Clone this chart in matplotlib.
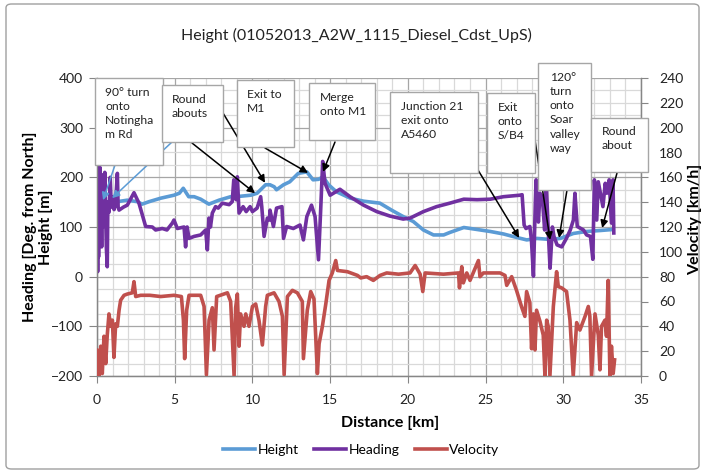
import matplotlib
matplotlib.use("Agg")
import matplotlib.pyplot as plt
from matplotlib.patches import Rectangle, FancyBboxPatch
from matplotlib.ticker import MultipleLocator

plt.rcParams['font.family'] = ['Lato', 'DejaVu Sans']

# ---------------- data ----------------
height_km = [0.0, 0.2, 0.4, 0.7, 1.0, 1.31, 1.95, 2.6, 2.9, 3.35, 4.1, 4.95, 5.3, 5.55, 5.9,
             6.25, 6.67, 7.2, 7.85, 8.6, 9.25, 9.9, 10.3, 10.85, 11.13, 11.4, 11.55, 12.0,
             12.4, 12.95, 13.5, 13.9, 14.25, 14.55, 14.9, 15.4, 16.3, 17.15, 18.2, 18.95,
             19.7, 20.35, 21.0, 21.65, 22.3, 22.7, 23.6, 24.45, 25.3, 26.15, 27.0, 27.65,
             28.3, 29.15, 29.8, 30.65, 31.5, 32.4, 33.2]
height_m = [150, 155, 152, 148, 152, 151, 154, 151, 146, 151, 158, 164, 168, 178, 161,
            161, 156, 146, 154, 161, 162, 164, 168, 185, 185, 181, 175, 185,
            191, 208, 211, 195, 196, 201, 185, 171, 158, 152, 148, 134,
            121, 111, 94, 84, 84, 89, 99, 95, 91, 86, 79, 74,
            77, 75, 77, 87, 91, 93, 95]

heading_km = [0.00, 0.02, 0.04, 0.07, 0.10, 0.13, 0.16, 0.19, 0.22, 0.26, 0.30, 0.34, 0.38,
              0.42, 0.46, 0.50, 0.55, 0.60, 0.66, 0.70, 0.78, 0.85, 0.92, 1.00, 1.10, 1.20,
              1.31, 1.36, 1.42,
              1.70, 1.95, 2.38, 2.70, 3.13, 3.56, 3.77, 4.20, 4.50, 4.85, 4.95, 5.17, 5.60,
              5.70, 5.80, 5.92, 6.24, 6.67, 6.99, 7.10, 7.20, 7.30, 7.42, 7.63, 7.80, 8.06,
              8.50, 8.70, 8.80, 8.95, 9.03, 9.14, 9.40, 9.60, 9.85, 10.00, 10.30, 10.53,
              10.60, 10.75, 10.96, 11.10, 11.13, 11.35, 11.55, 11.90, 12.00, 12.20, 12.63,
              13.06, 13.28, 13.50, 13.80, 14.03, 14.25, 14.40, 14.52, 14.67, 15.00, 15.63,
              16.28, 17.15, 18.00, 18.85, 19.70, 20.15, 21.00, 21.85, 22.70, 23.60, 24.45,
              25.30, 26.15, 27.20, 27.35, 27.48, 27.60, 27.85, 27.95, 28.08, 28.20, 28.25,
              28.40, 28.50, 28.65, 28.80, 28.90, 29.05, 29.15, 29.30, 29.40, 29.60, 29.90,
              30.20, 30.45, 30.65, 30.75, 30.90, 31.30, 31.50, 31.75, 31.90, 32.00, 32.15,
              32.25, 32.55, 32.70, 32.80, 32.95, 33.10, 33.20, 33.25]
heading_deg = [150, 230, 10, 215, 40, 200, 70, 220, 90, 180, 60, 205, 100,
               190, 120, 210, 130, 60, 20, 150, 130, 200, 140, 160, 135, 150,
               208, 140, 134,
               140, 144, 169, 148, 101, 100, 94, 97, 94, 108, 114, 97, 100,
               60, 100, 77, 81, 84, 94, 54, 118, 100, 128, 141, 138, 148,
               145, 151, 195, 155, 201, 128, 141, 131, 141, 131, 138, 161,
               141, 81, 118, 114, 134, 101, 138, 141, 77, 101, 97,
               104, 74, 121, 144, 121, 34, 141, 232, 188, 164, 176,
               161, 144, 131, 122, 116, 118, 131, 141, 148, 156, 155,
               156, 161, 164, 165, 104, 97, 101, 74, 1, 148, 195,
               110, 168, 160, 94, 188, 81, 17, 100, 81, 64, 60,
               77, 94, 114, 168, 101, 94, 84, 81, 35, 195, 114,
               191, 141, 188, 168, 195, 108, 195, 88]

velocity_km = [0.00, 0.02, 0.13, 0.24, 0.34, 0.45, 0.56, 0.66, 0.77, 0.88, 0.99, 1.09, 1.20,
               1.31, 1.42, 1.52, 1.74, 1.95, 2.27, 2.38, 2.49, 2.81, 3.40, 4.10, 4.95, 5.43,
               5.56, 5.64, 5.77, 5.92, 6.67, 6.89, 7.04, 7.21, 7.42, 7.53, 7.70, 8.39, 8.60,
               8.82, 8.92, 9.03, 9.14, 9.24, 9.46, 9.57, 9.78, 10.00, 10.21, 10.42, 10.64,
               10.85, 10.96, 11.39, 11.71, 11.93, 12.04, 12.25, 12.57, 12.89, 13.21, 13.28,
               13.53, 13.75, 13.96, 14.18, 14.29, 14.50, 14.72, 14.93, 15.14, 15.36, 15.47,
               16.11, 16.76, 16.97, 17.35, 17.78, 18.21, 18.64, 19.40, 20.14, 20.47, 20.79,
               20.96, 21.11, 22.29, 23.26, 23.32, 23.47, 23.57, 23.79, 24.00, 24.54, 24.64,
               24.86, 25.93, 26.25, 26.36, 26.68, 26.99, 27.31, 27.53, 27.64, 27.85, 27.96,
               28.07, 28.18, 28.28, 28.50, 28.71, 28.82, 28.93, 29.03, 29.14, 29.36, 29.57,
               29.68, 29.89, 30.21, 30.43, 30.64, 30.86, 31.07, 31.40, 31.61, 31.71, 31.82,
               32.04, 32.25, 32.36, 32.46, 32.68, 32.78, 32.89, 33.00, 33.10, 33.21, 33.30]
velocity_kmh = [10, 21, 0, 24, 2, 32, 10, 33, 50, 40, 45, 15, 42,
                40, 53, 61, 65, 66, 67, 76, 64, 65, 65, 64, 65, 64,
                45, 14, 53, 65, 65, 56, 1, 45, 55, 21, 64, 67, 60,
                0, 55, 66, 24, 50, 40, 50, 40, 56, 58, 45, 25,
                56, 65, 67, 60, 48, 1, 64, 69, 67, 60, 14,
                53, 68, 62, 2, 26, 40, 58, 77, 83, 93, 85,
                84, 81, 79, 80, 77, 81, 83, 82, 83, 89, 82,
                68, 83, 82, 83, 71, 88, 75, 83, 77, 93, 80,
                83, 83, 81, 73, 80, 69, 56, 48, 68, 59, 22,
                50, 21, 53, 44, 33, 0, 45, 40, 0, 56, 84,
                72, 71, 68, 45, 0, 43, 37, 48, 56, 48, 0,
                50, 33, 5, 40, 45, 32, 77, 0, 24, 2, 13]

series_names = ["Height", "Heading", "Velocity"]
x_ticks = [0, 5, 10, 15, 20, 25, 30, 35]
left_ticks = [-200, -100, 0, 100, 200, 300, 400]
right_ticks = list(range(0, 241, 20))

# annotations: text, arrow tips (km, left-axis value)
notes = ["90° turn\nonto\nNotingha\nm Rd", "Round\nabouts", "Exit to\nM1", "Merge\nonto M1",
         "Junction 21\nexit onto\nA5460", "Exit\nonto\nS/B4",
         "120°\nturn\nonto\nSoar\nvalley\nway", "Round\nabout"]
arrow_tips_km = [0.39, 0.97, 10.17, 10.81, 13.58, 14.54, 27.16, 29.15, 29.73, 32.5]
arrow_tips_val = [154, 158, 168, 189, 209, 211, 78, 74, 78, 98]

# ---------------- layout (pixels) ----------------
W, H = 705, 473
L, R, T, B = 97, 641, 78, 376
fig = plt.figure(figsize=(W / 100, H / 100), dpi=100)
ax = fig.add_axes([L / W, 1 - B / H, (R - L) / W, (B - T) / H])
ax2 = ax.twinx()

c_h, c_hd, c_v = '#5B9BD5', '#7030A0', '#C0504D'
ln1, = ax.plot(height_km, height_m, color=c_h, lw=2.6, zorder=3, solid_joinstyle='round')
ln2, = ax.plot(heading_km, heading_deg, color=c_hd, lw=2.6, zorder=4, solid_joinstyle='round')
ln3, = ax2.plot(velocity_km, velocity_kmh, color=c_v, lw=2.6, zorder=4, solid_joinstyle='round')

ax.set_xlim(0, 35)
ax.set_ylim(-200, 400)
ax2.set_ylim(0, 240)
ax.set_xticks(x_ticks)
ax.set_yticks(left_ticks)
ax2.set_yticks(right_ticks)
ax.xaxis.set_minor_locator(MultipleLocator(1))
ax.yaxis.set_minor_locator(MultipleLocator(25))
ax.set_axisbelow(True)
ax.grid(which='minor', color='#d9d9d9', lw=0.9)
ax.grid(which='major', color='#a6a6a6', lw=0.9)

for a in (ax, ax2):
    for s in a.spines.values():
        s.set_color('#868686')
        s.set_linewidth(0.9)
    a.spines['top'].set_visible(False)
ax.tick_params(which='minor', length=0)
ax.tick_params(axis='y', which='major', length=6, color='#868686', labelsize=10, pad=4,
               labelcolor='#222222')
ax.tick_params(axis='x', which='major', length=5, color='#868686', labelsize=10, pad=8,
               labelcolor='#222222')
ax2.tick_params(axis='y', length=5, color='#868686', labelsize=10, pad=8, labelcolor='#222222')

# arrows
starts_px = [(115, 165), (172, 142), (192, 143), (223, 113), (265, 148), (335, 142),
             (478, 170), (535, 140), (567, 190), (617, 173)]
arrow_cols = [c_h, c_h] + ['black'] * 8
for (sx, sy), tx, tv, col in zip(starts_px, arrow_tips_km, arrow_tips_val, arrow_cols):
    ax.annotate('', xy=(tx, tv), xycoords='data', xytext=(sx, H - sy),
                textcoords='figure pixels', annotation_clip=False,
                arrowprops=dict(arrowstyle='-|>', color=col, lw=1.1, mutation_scale=11,
                                shrinkA=0, shrinkB=0), zorder=6)

# callout boxes (left, top, right, bottom) and text anchor
boxes = [(95, 78, 163, 165), (162, 85, 223, 142), (237, 80, 294, 147), (309, 83, 375, 140),
         (390, 92, 478, 173), (487, 93, 535, 173), (538, 63, 591, 190), (591, 118, 648, 172)]
text_at = [(105, 87), (172, 94), (247, 89), (320, 92), (401, 101), (498, 102), (550, 72),
           (602, 126)]
for (x0, y0, x1, y1), (tx, ty), txt in zip(boxes, text_at, notes):
    fig.add_artist(Rectangle((x0 / W, 1 - y1 / H), (x1 - x0) / W, (y1 - y0) / H,
                             transform=fig.transFigure, facecolor='white',
                             edgecolor='#a6a6a6', lw=1, zorder=10))
    fig.text(tx / W, 1 - ty / H, txt, ha='left', va='top', fontsize=8.7, linespacing=1.35,
             color='#222222', zorder=11)

# titles and labels
fig.text(356 / W, 1 - 35 / H, "Height (01052013_A2W_1115_Diesel_Cdst_UpS)", ha='center',
         va='center', fontsize=11.5, color='#222222')
fig.text(38 / W, 1 - 227 / H, "Heading [Deg. from North]\nHeight [m]", rotation=90,
         ha='center', va='center', fontsize=11.5, fontweight='bold', multialignment='center',
         linespacing=1.1)
fig.text(695 / W, 1 - 219 / H, "Velocity [km/h]", rotation=90, ha='center', va='center',
         fontsize=11.5, fontweight='bold')
fig.text(390 / W, 1 - 423 / H, "Distance [km]", ha='center', va='center', fontsize=11.5,
         fontweight='bold')

fig.legend([ln1, ln2, ln3], series_names, loc='center', bbox_to_anchor=(361 / W, 1 - 450 / H),
           ncol=3, frameon=False, fontsize=10, handlelength=2.3, handletextpad=0.2,
           columnspacing=1.1)

# chart border
fig.add_artist(FancyBboxPatch((6 / W, 4 / H), (W - 12) / W, (H - 8) / H,
                              boxstyle='round,pad=0,rounding_size=0.008',
                              transform=fig.transFigure, facecolor='none',
                              edgecolor='#a0a0a0', lw=1, zorder=0))

fig.savefig('out.png', dpi=100)
